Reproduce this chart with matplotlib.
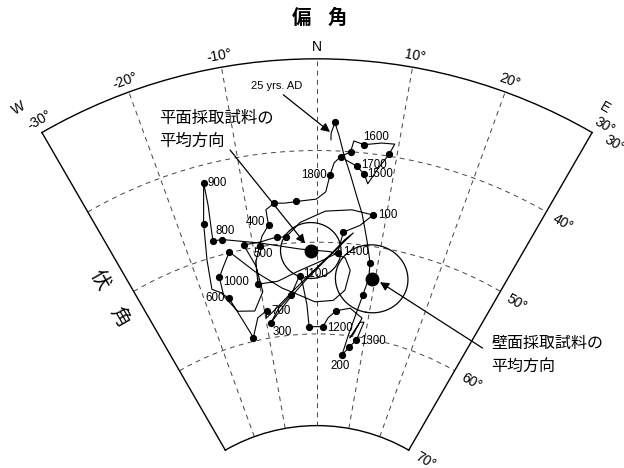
import numpy as np
import matplotlib
matplotlib.use('Agg')
import matplotlib.pyplot as plt

plt.rcParams['font.family'] = ['Liberation Sans', 'Noto Sans CJK JP', 'DejaVu Sans']

# secular variation path, declination (E +) and inclination in degrees
curve_dec = [1.7, 1.7, 2.1, 2.7, 3.4, 4.4, 5.5, 6.5, 7.7, 8.7,
             8.9, 8.3, 7.5, 6.5, 5.6, 7.0, 8.3, 9.3, 8.5, 6.9,
             7.5, 8.8, 6.3, 3.7, 2.2, 1.2, -1.6, -1.9, -2.5, -3.0,
             -4.7, -7.2, -9.2,
             -5.4, -2.1, 1.3, 4.3, 5.5, 3.9, 0.2, -4.1, -8.6,
             -9.9, -9.6, -11.5, -13.2, -14.3, -15.8, -17.0,
             -18.2, -17.5, -16.4, -14.9, -15.1, -15.8, -14.4,
             -8.9, -2.7, 2.1, 4.6, 5.6, 5.0, 3.0, -0.4, -3.6, -6.2, -10.4,
             -13.8, -15.2, -16.4,
             -16.6, -14.9, -11.8, -9.7, -10.1,
             -11.4, -8.8, -6.2, -4.8, -2.5, 1.2, 5.0,
             8.1, 6.4, 4.0, 3.3, 0.2, -3.2, -6.8,
             -10.3, -10.0, -9.0, -8.4, -7.2, -7.3, -6.0, -4.5, -2.9, -0.1,
             1.2, 1.7, 2.2, 3.0, 4.2, 4.5, 5.8, 7.9, 9.5, 9.0,
             7.9, 6.8, 6.2, 5.1, 3.6]
curve_inc = [38.8, 38.1, 36.9, 38.4, 40.4, 42.5, 44.8, 46.6, 49.4, 51.8,
             53.5, 55.4, 57.6, 60.0, 62.2, 61.2, 60.4, 58.3, 58.4, 60.2,
             59.8, 57.9, 57.0, 57.4, 58.2, 59.2, 59.2, 56.8, 54.6, 53.6,
             55.6, 56.9, 58.4,
             56.2, 54.2, 52.0, 49.6, 48.8, 50.1, 52.6, 55.1, 57.3,
             57.8, 57.0, 57.6, 59.6, 57.7, 54.8, 53.9,
             53.3, 50.1, 46.2, 41.9, 44.4, 48.3, 48.4,
             49.6, 50.7, 51.0, 51.6, 52.9, 55.1, 56.3, 56.5, 55.6, 54.8, 52.6,
             49.9, 51.2, 52.3,
             54.4, 56.4, 56.8, 54.9, 52.0,
             49.5, 49.5, 49.2, 49.3, 47.8, 46.6, 46.3,
             46.6, 47.9, 48.8, 51.1, 52.2, 53.1, 54.0,
             54.0, 51.6, 49.9, 48.9, 47.8, 46.1, 45.5, 45.6, 45.5, 45.3,
             44.5, 42.7, 41.3, 40.6, 40.0, 38.8, 39.1, 38.7, 38.6, 39.8,
             41.5, 43.3, 42.3, 41.5, 40.9]
# 1 where the path carries a dated point
curve_dot = [0, 0, 1, 0, 0, 0, 0, 0, 0, 1,
             0, 1, 0, 0, 1, 1, 1, 0, 0, 0,
             0, 0, 0, 1, 0, 1, 1, 0, 0, 1,
             1, 0, 1,
             0, 0, 0, 0, 0, 0, 0, 0, 0,
             0, 1, 0, 1, 0, 1, 0,
             0, 0, 1, 1, 0, 1, 1,
             0, 0, 0, 0, 0, 0, 0, 0, 0, 0, 0,
             1, 0, 1,
             0, 0, 0, 0, 0,
             1, 0, 1, 1, 0, 0, 0,
             1, 0, 1, 1, 0, 0, 0,
             1, 0, 1, 0, 1, 0, 1, 0, 1, 0,
             0, 1, 0, 1, 1, 0, 1, 0, 0, 1,
             0, 0, 1, 1, 0]

years = ['100', '200', '300', '400', '500', '600', '700', '800', '900',
         '1000', '1100', '1200', '1300', '1400', '1500', '1600', '1700', '1800']
year_point = [82, 14, 32, 93, 91, 47, 43, 55, 52,
              69, 29, 25, 16, 85, 111, 105, 112, 100]
# label offsets in points and alignment
year_off = {'100': (4, 0, 'left'), '200': (-1, -8, 'center'), '300': (1, -6.5, 'left'),
            '400': (-2.5, 2.5, 'right'), '500': (2.7, -6, 'center'), '600': (-3.4, 0, 'right'),
            '700': (3.6, 0, 'left'), '800': (-4.7, 6, 'left'), '900': (3, 0, 'left'),
            '1000': (3, -3, 'left'), '1100': (2.5, 1.2, 'left'), '1200': (3, -0.7, 'left'),
            '1300': (2.7, -0.7, 'left'), '1400': (4.3, 0.7, 'left'), '1500': (2, 0, 'left'),
            '1600': (-1, 5.5, 'left'), '1700': (3.6, 0.7, 'left'), '1800': (-2.2, 0, 'right')}

planar_mean = (-1.0, 50.9)
planar_a95 = 3.05
wall_mean = (9.4, 53.5)
wall_a95 = 3.7

dec_ticks = [-30, -20, -10, 0, 10, 20, 30]
dec_labels = ['-30°', '-20°', '-10°', 'N', '10°', '20°', '30°']
inc_ticks = [30, 40, 50, 60, 70]


def th(d):
    return np.radians(d)


def rr(i):
    return 90 - np.asarray(i, dtype=float)


def small_circle(dec, inc, a95):
    d, i, a = np.radians([dec, inc, a95])
    m = np.array([np.cos(i) * np.cos(d), np.cos(i) * np.sin(d), np.sin(i)])
    u = np.array([-np.sin(i) * np.cos(d), -np.sin(i) * np.sin(d), np.cos(i)])
    v = np.array([-np.sin(d), np.cos(d), 0.0])
    phi = np.linspace(0, 2 * np.pi, 181)
    p = (np.cos(a) * m[:, None] + np.sin(a) * (np.cos(phi) * u[:, None] + np.sin(phi) * v[:, None]))
    return np.degrees(np.arctan2(p[1], p[0])), np.degrees(np.arcsin(p[2]))


fig = plt.figure(figsize=(6.24, 4.68), dpi=100)
ax = fig.add_axes([0.0672, -0.1316, 0.8817, 1.1756], projection='polar')
ax.set_theta_zero_location('N')
ax.set_theta_direction(-1)
ax.set_thetamin(-30)
ax.set_thetamax(30)
ax.set_rlim(20, 60)
ax.set_rorigin(0)
ax.set_xticks(th(dec_ticks[1:-1]))
ax.set_xticklabels([])
ax.set_yticks(rr(inc_ticks[1:-1]))
ax.set_yticklabels([])
ax.tick_params(length=0)
ax.grid(True, color='#444444', linewidth=0.7, linestyle=(0, (5, 4.5)))
for s in ax.spines.values():
    s.set_linewidth(1.0)
    s.set_color('black')

# path and dated points
cd = np.array(curve_dec)
ci = np.array(curve_inc)
dots = np.array(curve_dot) == 1
ax.plot(th(cd), rr(ci), color='black', lw=0.8)
ax.plot(th(cd[dots]), rr(ci[dots]), 'o', color='black', ms=4.2)

for y, k in zip(years, year_point):
    ox, oy, ha = year_off[y]
    ax.annotate(y, (th(cd[k]), rr(ci[k])), xytext=(ox, oy), textcoords='offset points',
                ha=ha, va='center', fontsize=8.3)

# mean directions with confidence circles
for (md, mi), a95 in [(planar_mean, planar_a95), (wall_mean, wall_a95)]:
    c_d, c_i = small_circle(md, mi, a95)
    ax.plot(th(c_d), rr(c_i), color='black', lw=0.9)
    ax.plot(th(md), rr(mi), 'o', color='black', ms=9)

arrow = dict(arrowstyle='-|>', color='black', lw=0.9, mutation_scale=13, shrinkA=0, shrinkB=0)
ax.annotate('', xy=(th(1.56), rr(37.96)), xytext=(th(-3.75), rr(33.8)), arrowprops=arrow)
ax.text(th(-4.37), rr(32.8), '25 yrs. AD', ha='center', va='center', fontsize=8)
ax.annotate('', xy=(th(-1.88), rr(50.1)), xytext=(th(-10.73), rr(39.05)), arrowprops=arrow)
ax.annotate('', xy=(th(10.9), rr(53.7)), xytext=(th(32.4), rr(56.3)), arrowprops=arrow,
            annotation_clip=False)

# declination labels along the outer arc
for d, lab in zip(dec_ticks, dec_labels):
    dd = {-30: -29.6, 30: 30.8}.get(d, d)
    ax.text(th(dd), 61.3, lab, rotation=-d if lab != 'N' else 0, rotation_mode='anchor',
            ha='center', va='center', fontsize=10)
ax.text(th(-30.8), 63.6, 'W', rotation=30, rotation_mode='anchor', ha='center', va='center', fontsize=10)
ax.text(th(29.9), 63.0, 'E', rotation=-30, rotation_mode='anchor', ha='center', va='center', fontsize=10)

# inclination labels along the east edge
for i in inc_ticks:
    off = (16, -8) if i == 30 else (12, -8)
    ax.annotate(f'{i}°', (th(30), rr(i)), xytext=off, textcoords='offset points', rotation=-30,
                rotation_mode='anchor', ha='center', va='center', fontsize=10, annotation_clip=False)

cjk = ['Noto Sans CJK JP', 'DejaVu Sans']
fig.text(301.6 / 624, 1 - 18 / 468, '偏', family=cjk, fontsize=14, weight='bold', ha='center', va='center')
fig.text(337.4 / 624, 1 - 18 / 468, '角', family=cjk, fontsize=14, weight='bold', ha='center', va='center')
fig.text(100 / 624, 1 - 280 / 468, '伏', family=cjk, fontsize=14, rotation=-60, ha='center', va='center')
fig.text(120 / 624, 1 - 316.7 / 468, '角', family=cjk, fontsize=14, rotation=-60, ha='center', va='center')

fig.text(159 / 624, 1 - 118.3 / 468, '平面採取試料の', family=cjk, fontsize=11.8, ha='left', va='center')
fig.text(159 / 624, 1 - 141.7 / 468, '平均方向', family=cjk, fontsize=11.8, ha='left', va='center')
fig.text(491.7 / 624, 1 - 343.3 / 468, '壁面採取試料の', family=cjk, fontsize=11.5, ha='left', va='center')
fig.text(491.7 / 624, 1 - 366.7 / 468, '平均方向', family=cjk, fontsize=11.5, ha='left', va='center')

fig.savefig('out.png', dpi=100)
